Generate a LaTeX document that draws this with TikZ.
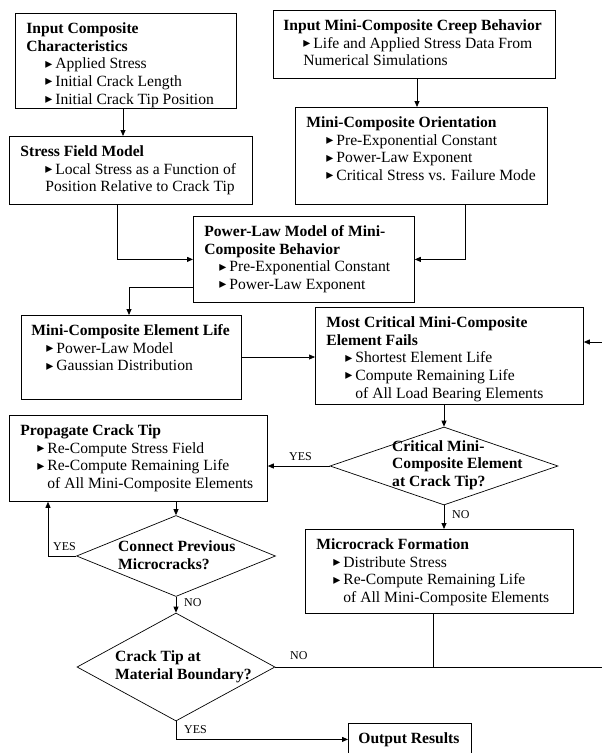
\documentclass[tikz,border=0pt]{standalone}
\usepackage{fontspec}
\setmainfont{Liberation Serif}
\newfontfamily\symf{DejaVu Sans}
\usetikzlibrary{arrows.meta,shapes.geometric}
\newcommand\bl[1]{\hspace*{#1pt}\makebox[10pt][l]{\raisebox{0.6pt}{\symf\fontsize{14}{14}\selectfont ▸}}}
\newcommand\cb[1]{\hspace*{#1pt}}
\newcommand\bxt[4]{\parbox[t][#2pt][t]{#1pt}{\raggedright\leftskip=#3pt\vspace*{7.6pt}\strut #4}}
\begin{document}
\begin{tikzpicture}[x=1pt,y=-1pt,
  box/.style={draw,line width=0.8pt,inner sep=0pt,anchor=north west,font=\fontsize{15.6}{17.7}\selectfont},
  dia/.style={draw,diamond,line width=0.7pt,inner sep=0pt},
  dtext/.style={font=\fontsize{15.6}{17.7}\selectfont\bfseries,align=left,anchor=west,inner sep=0pt},
  lab/.style={font=\fontsize{12}{14}\selectfont,inner sep=0pt,anchor=west},
  arr/.style={line width=0.8pt,-{Triangle[length=6pt,width=5pt]}},
  ln/.style={line width=0.8pt}]
\useasboundingbox (0,0) rectangle (602,753);

% boxes
\node[box] (A) at (15,13) {\bxt{221}{95}{11}{\textbf{Input Composite}\\ \textbf{Characteristics}\\
  \bl{19}Applied Stress\\ \bl{19}Initial Crack Length\\ \bl{19}Initial Crack Tip Position}};
\node[box] (B) at (273,10) {\bxt{282}{68}{10}{\textbf{Input Mini-Composite Creep Behavior}\\
  \bl{20}Life and Applied Stress Data From\\ \cb{20}Numerical Simulations}};
\node[box] (S) at (9,136) {\bxt{243}{68}{11}{\textbf{Stress Field Model}\\
  \bl{25}Local Stress as a Function of\\ \cb{25}Position Relative to Crack Tip}};
\node[box] (C) at (295,107) {\bxt{252}{97}{11}{\textbf{Mini-Composite Orientation}\\
  \bl{20}Pre-Exponential Constant\\ \bl{20}Power-Law Exponent\\ \bl{20}Critical Stress vs. Failure Mode}};
\node[box] (P) at (193,216) {\bxt{221}{86}{11}{\textbf{Power-Law Model of Mini-}\\ \textbf{Composite Behavior}\\
  \bl{15}Pre-Exponential Constant\\ \bl{15}Power-Law Exponent}};
\node[box] (EL) at (21,315) {\bxt{220}{84}{10}{\textbf{Mini-Composite Element Life}\\
  \bl{15}Power-Law Model\\ \bl{15}Gaussian Distribution}};
\node[box] (M) at (315,307) {\bxt{268}{97}{11}{\textbf{Most Critical Mini-Composite}\\ \textbf{Element Fails}\\
  \bl{19}Shortest Element Life\\ \bl{19}Compute Remaining Life\\ \cb{29}of All Load Bearing Elements}};
\node[box] (Pr) at (9,415) {\bxt{258}{86}{11}{\textbf{Propagate Crack Tip}\\
  \bl{17}Re-Compute Stress Field\\ \bl{17}Re-Compute Remaining Life\\ \cb{27}of All Mini-Composite Elements}};
\node[box] (Mc) at (305,529) {\bxt{268}{84}{11}{\textbf{Microcrack Formation}\\
  \bl{17}Distribute Stress\\ \bl{17}Re-Compute Remaining Life\\ \cb{27}of All Mini-Composite Elements}};
\node[box] (Out) at (348,723) {\bxt{123}{32}{10}{\textbf{Output Results}}};

% decisions
\node[dia, minimum width=228pt, minimum height=78pt] (D1) at (444,466) {};
\node[dtext] (D1t) at (392,465) {Critical Mini-\\Composite Element\\at Crack Tip?};
\node[dia, minimum width=199pt, minimum height=81pt] (D2) at (176,556) {};
\node[dtext] (D2t) at (118,555) {Connect Previous\\Microcracks?};
\node[dia, minimum width=198pt, minimum height=108pt] (D3) at (176,667) {};
\node[dtext] (D3t) at (115,667) {Crack Tip at\\Material Boundary?};

% helper coordinates
\coordinate (xa) at (123,0);
\coordinate (xb) at (417,0);
\coordinate (xs) at (117,0);
\coordinate (xc) at (465,0);
\coordinate (yp) at (0,287);
\coordinate (xe) at (129,0);
\coordinate (ym) at (0,357);
\coordinate (xy) at (48,0);
\coordinate (xm) at (433,0);
\coordinate (yr) at (0,342);
\coordinate (loop1) at (614,667);

% connectors
\draw[arr] (A.south -| xa) -- (S.north -| xa);
\draw[arr] (B.south -| xb) -- (C.north -| xb);
\draw[arr] (S.south -| xs) |- (P.west);
\draw[arr] (C.south -| xc) |- (P.east);
\draw[arr] (P.west |- yp) -| (EL.north -| xe);
\draw[arr,line width=0.5pt] (EL.east |- ym) -- (M.west |- ym);
\draw[arr] (M.south -| D1.north) -- (D1.north);
\draw[arr] (D1.west) -- (Pr.east |- D1.west);
\draw[arr] (D1.south) -- (Mc.north -| D1.south);
\draw[arr] (Pr.south -| D2.north) -- (D2.north);
\draw[arr] (D2.west) -| (Pr.south -| xy);
\draw[arr] (D2.south) -- (D3.north);
\draw[arr] (D3.south) |- (Out.west);
\draw[ln] (Mc.south -| xm) -- (xm |- D3.east);
\draw[arr] (D3.east) -- (loop1) |- (M.east |- yr);

% labels
\node[lab] (l1) at (289,457) {YES};
\node[lab] (l2) at (452,515) {NO};
\node[lab] (l3) at (53,547) {YES};
\node[lab] (l4) at (184,603) {NO};
\node[lab] (l5) at (290,656) {NO};
\node[lab] (l6) at (184,730) {YES};
\end{tikzpicture}
\end{document}
